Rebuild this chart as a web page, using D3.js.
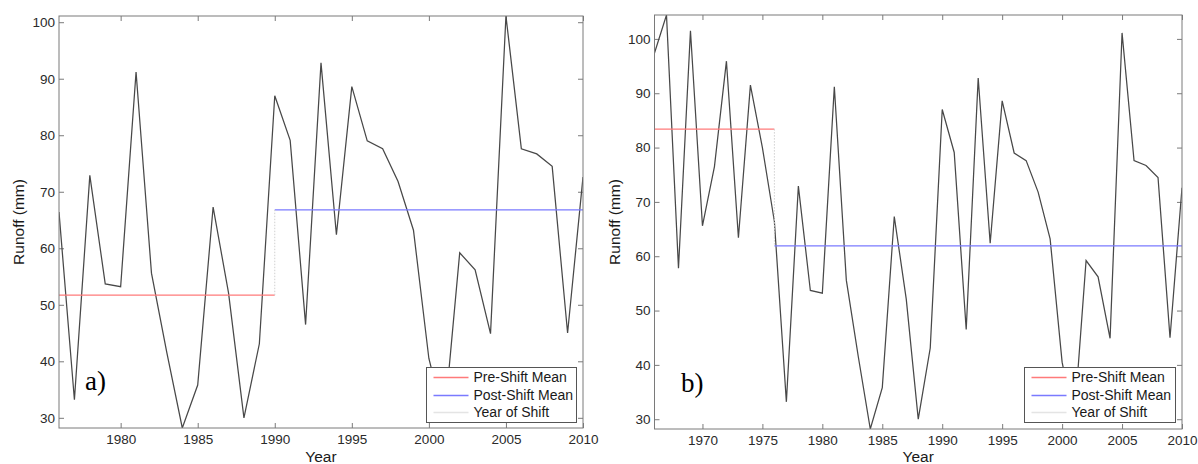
<!DOCTYPE html>
<html>
<head>
<meta charset="utf-8">
<script src="https://d3js.org/d3.v7.min.js"></script>
<style>
  body { margin: 0; padding: 0; background: #fff; }
  svg { display: block; font-family: "Liberation Sans", Arial, sans-serif; }
  .tick text { fill: #2a2a2a; font-size: 13.5px; }
  .tick line { stroke: #7a7a7a; }
  .frame { fill: none; stroke: #7a7a7a; stroke-width: 1; }
  .runoff { fill: none; stroke: #484848; stroke-width: 1.25; stroke-linejoin: miter; }
  .axis-title { fill: #1a1a1a; font-size: 15.5px; }
  .legend-box { fill: #fff; stroke: #555; stroke-width: 1; }
  .legend-text { fill: #1a1a1a; font-size: 14px; }
  .panel-tag { font-family: "Liberation Serif", "Times New Roman", serif; font-size: 27px; fill: #000; }
</style>
</head>
<body>
<div id="chart"></div>
<script>
// annual runoff (mm), 1966-2010
var years = d3.range(1966, 2011);
var runoff = [97.4, 104.4, 57.8, 101.5, 65.6, 76.5, 95.9, 63.4, 91.5, 80.0,
              66.4, 33.2, 72.9, 53.7, 53.2, 91.2, 55.6, 41.5, 28.2, 35.8,
              67.3, 52.1, 30.0, 43.1, 87.0, 79.1, 46.5, 92.8, 62.4, 88.6,
              79.0, 77.6, 71.8, 63.2, 40.5, 29.5, 59.2, 56.2, 44.9, 101.1,
              77.6, 76.7, 74.5, 45.0, 72.6];

// per panel: start year, shift year, means
var panelTags = ["a)", "b)"];
var startYears = [1976, 1966];
var shiftYears = [1990, 1976];
var preMeans = [51.7, 83.4];
var postMeans = [66.8, 61.9];
var yMax = [101.1, 104.4];
var yMin = [28.2, 28.2];
var yTicks = [30, 40, 50, 60, 70, 80, 90, 100];
var xTicks = [[1980, 1985, 1990, 1995, 2000, 2005, 2010],
              [1970, 1975, 1980, 1985, 1990, 1995, 2000, 2005, 2010]];
var legendLabels = ["Pre-Shift Mean", "Post-Shift Mean", "Year of Shift"];

var colPre = "#ff7a7a", colPost = "#7a7aff", colShift = "#d0d0d0";

var boxes = [
  {x0: 59, x1: 583, y0: 16, y1: 428, titleX: 19, tagX: 85, tagY: 390, lx: 426.5, ly: 367.5},
  {x0: 654.5, x1: 1182, y0: 15, y1: 429, titleX: 615, tagX: 681, tagY: 392, lx: 1024.5, ly: 367.5}
];

var svg = d3.select("#chart").append("svg")
    .attr("width", 1198)
    .attr("height", 464);

boxes.forEach(function(b, i) {
    var w = b.x1 - b.x0, h = b.y1 - b.y0;
    var x = d3.scaleLinear().domain([startYears[i], 2010]).range([0, w]);
    var y = d3.scaleLinear().domain([yMin[i], yMax[i]]).range([h, 0]);

    var g = svg.append("g").attr("transform", "translate(" + b.x0 + "," + b.y0 + ")");

    g.append("clipPath").attr("id", "clip" + i)
      .append("rect").attr("width", w).attr("height", h);

    // axes, ticks inside like matlab
    g.append("g").attr("transform", "translate(0," + h + ")")
      .call(d3.axisBottom(x).tickValues(xTicks[i]).tickFormat(d3.format("d"))
            .tickSizeInner(-5).tickSizeOuter(0).tickPadding(6));
    g.append("g")
      .call(d3.axisTop(x).tickValues(xTicks[i]).tickFormat("")
            .tickSizeInner(-5).tickSizeOuter(0));
    g.append("g")
      .call(d3.axisLeft(y).tickValues(yTicks).tickFormat(d3.format("d"))
            .tickSizeInner(-5).tickSizeOuter(0).tickPadding(4));
    g.append("g").attr("transform", "translate(" + w + ",0)")
      .call(d3.axisRight(y).tickValues(yTicks).tickFormat("")
            .tickSizeInner(-5).tickSizeOuter(0));
    g.selectAll(".domain").remove();

    var pts = years.map(function(yr, k) { return [yr, runoff[k]]; })
        .filter(function(p) { return p[0] >= startYears[i]; });

    var plot = g.append("g").attr("clip-path", "url(#clip" + i + ")");

    plot.append("path")
      .attr("class", "runoff")
      .attr("d", d3.line().x(function(p) { return x(p[0]); }).y(function(p) { return y(p[1]); })(pts));

    plot.append("line")
      .attr("stroke", colPre).attr("stroke-width", 1.2)
      .attr("x1", x(startYears[i])).attr("x2", x(shiftYears[i]))
      .attr("y1", y(preMeans[i])).attr("y2", y(preMeans[i]));
    plot.append("line")
      .attr("stroke", colPost).attr("stroke-width", 1.2)
      .attr("x1", x(shiftYears[i])).attr("x2", x(2010))
      .attr("y1", y(postMeans[i])).attr("y2", y(postMeans[i]));
    plot.append("line")
      .attr("stroke", colShift).attr("stroke-dasharray", "1.5 1.5")
      .attr("x1", x(shiftYears[i])).attr("x2", x(shiftYears[i]))
      .attr("y1", y(preMeans[i])).attr("y2", y(postMeans[i]));

    g.append("rect").attr("class", "frame").attr("width", w).attr("height", h);

    // titles
    g.append("text").attr("class", "axis-title")
      .attr("text-anchor", "middle")
      .attr("x", w / 2).attr("y", 462 - b.y0)
      .text("Year");
    svg.append("text").attr("class", "axis-title")
      .attr("text-anchor", "middle")
      .attr("transform", "translate(" + (b.titleX + 5) + "," + (b.y0 + h / 2) + ") rotate(-90)")
      .text("Runoff (mm)");

    svg.append("text").attr("class", "panel-tag")
      .attr("x", b.tagX).attr("y", b.tagY)
      .text(panelTags[i]);
});

// legends on top of everything; samples as thin filled bars
boxes.forEach(function(b, i) {
    var lw = i == 0 ? 150 : 151;
    var lg = svg.append("g").attr("transform", "translate(" + b.lx + "," + b.ly + ")");
    lg.append("rect").attr("class", "legend-box").attr("width", lw).attr("height", 55);
    var cols = [colPre, colPost, "#e4e4e4"];
    legendLabels.forEach(function(lab, k) {
        var ry = [10, 28, 45][k];
        lg.append("rect")
          .attr("fill", cols[k])
          .attr("x", 7).attr("width", 35)
          .attr("y", ry - 0.75).attr("height", 1.5);
        lg.append("text").attr("class", "legend-text")
          .attr("x", 47).attr("y", ry).attr("dy", "0.35em")
          .text(lab);
    });
});
</script>
</body>
</html>
